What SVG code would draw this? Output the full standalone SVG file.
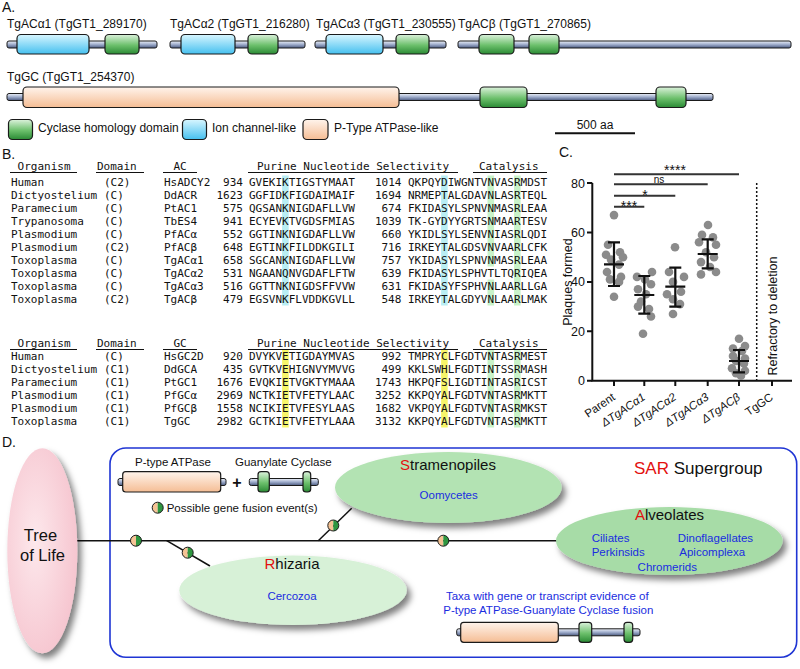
<svg xmlns="http://www.w3.org/2000/svg" width="800" height="669" viewBox="0 0 800 669">
<style>
.s{font-family:"Liberation Sans",Arial,sans-serif;fill:#111}
.m{font-family:"DejaVu Sans Mono",monospace;font-size:11px;fill:#111}
.lbl{font-size:12px}
.pl{font-size:14px}
.bx{stroke:#1a1a1a;stroke-width:1.2}
.bar{fill:url(#gBar);stroke:#1a1a1a;stroke-width:1}
.grn{fill:url(#gGreen)}
.blu{fill:url(#gBlue)}
.org{fill:url(#gOrange)}
.ul{stroke:#111;stroke-width:1}
.hc{fill:#b9eef4}
.hg{fill:#c9f3c9}
.hy{fill:#f7f56a}
.pt{fill:#8b8b8b}
.eb{stroke:#111;stroke-width:2.2;fill:none}
.sig{stroke:#333;stroke-width:2}
.ax{stroke:#111;stroke-width:2;fill:none}
.tx{font-size:12.5px}
.xl{font-size:11.5px}
.it{font-style:italic}
.bt{fill:#1a2de0;font-size:11.5px}
.red{fill:#e3100f}
.tl{stroke:#111;stroke-width:1.5;fill:none}
.big{font-size:15px}
</style>
<defs>
<linearGradient id="gBar" x1="0" y1="0" x2="0" y2="1"><stop offset="0" stop-color="#eef2fa"/><stop offset="0.5" stop-color="#9eaccb"/><stop offset="1" stop-color="#4b5a80"/></linearGradient>
<linearGradient id="gGreen" x1="0" y1="0" x2="0" y2="1"><stop offset="0" stop-color="#dcf2dc"/><stop offset="0.55" stop-color="#6cc06c"/><stop offset="1" stop-color="#2a8a34"/></linearGradient>
<linearGradient id="gBlue" x1="0" y1="0" x2="0" y2="1"><stop offset="0" stop-color="#d8f6ff"/><stop offset="1" stop-color="#45c0ef"/></linearGradient>
<linearGradient id="gOrange" x1="0" y1="0" x2="0" y2="1"><stop offset="0" stop-color="#fff4ec"/><stop offset="1" stop-color="#f5bd94"/></linearGradient>
<radialGradient id="gPink" cx="0.4" cy="0.45" r="0.6"><stop offset="0" stop-color="#fde8ec"/><stop offset="1" stop-color="#f6c6d0"/></radialGradient>
<filter id="ds" x="-20%" y="-30%" width="150%" height="170%"><feDropShadow dx="4" dy="5" stdDeviation="3.2" flood-color="#000" flood-opacity="0.5"/></filter>
<g id="fus">
<path d="M0,-5.5 A5.5,5.5 0 0 0 0,5.5 Z" fill="#f5c394"/>
<path d="M0,-5.5 A5.5,5.5 0 0 1 0,5.5 Z" fill="#2f9640"/>
<circle r="5.5" fill="none" stroke="#1a1a1a" stroke-width="1"/>
</g>
</defs>
<rect width="800" height="669" fill="#fff"/>

<!-- Panel A -->
<g id="panelA">
<text class="s pl" x="2" y="12">A.</text>
<g id="gene-TgACa1">
<text class="s lbl" x="7" y="27.5">TgACα1 (TgGT1_289170)</text>
<rect class="bar" x="7" y="41" width="150" height="7" rx="2"/>
<rect class="bx blu" x="17" y="34.5" width="72" height="19.5" rx="4"/>
<rect class="bx grn" x="105" y="34.5" width="34" height="19.5" rx="4"/>
</g>
<g id="gene-TgACa2">
<text class="s lbl" x="170" y="27.5">TgACα2 (TgGT1_216280)</text>
<rect class="bar" x="170" y="41" width="135" height="7" rx="2"/>
<rect class="bx blu" x="181" y="34.5" width="54" height="19.5" rx="4"/>
<rect class="bx grn" x="248" y="34.5" width="30" height="19.5" rx="4"/>
</g>
<g id="gene-TgACa3">
<text class="s lbl" x="316" y="27.5">TgACα3 (TgGT1_230555)</text>
<rect class="bar" x="315" y="41" width="131" height="7" rx="2"/>
<rect class="bx blu" x="326" y="34.5" width="57" height="19.5" rx="4"/>
<rect class="bx grn" x="396" y="34.5" width="33" height="19.5" rx="4"/>
</g>
<g id="gene-TgACb">
<text class="s lbl" x="458" y="27.5">TgACβ (TgGT1_270865)</text>
<rect class="bar" x="458" y="41" width="333" height="7" rx="2"/>
<rect class="bx grn" x="479" y="34.5" width="35" height="19.5" rx="4"/>
<rect class="bx grn" x="529" y="34.5" width="30" height="19.5" rx="4"/>
</g>
<g id="gene-TgGC">
<text class="s lbl" x="7" y="81">TgGC (TgGT1_254370)</text>
<rect class="bar" x="7" y="93.5" width="706" height="7" rx="2"/>
<rect class="bx org" x="23" y="87" width="376" height="20.5" rx="4"/>
<rect class="bx grn" x="480" y="87" width="47" height="20.5" rx="4"/>
<rect class="bx grn" x="656" y="87" width="30" height="20.5" rx="4"/>
</g>
<g id="legendA">
<rect class="bx grn" x="8.5" y="119.5" width="24" height="20" rx="4"/>
<text class="s lbl" x="38" y="132">Cyclase homology domain</text>
<rect class="bx blu" x="182.5" y="119.5" width="24" height="20" rx="4"/>
<text class="s lbl" x="212" y="132">Ion channel-like</text>
<rect class="bx org" x="303" y="119.5" width="25" height="20" rx="4"/>
<text class="s lbl" x="334" y="132">P-Type ATPase-like</text>
<text class="s lbl" x="595" y="129" text-anchor="middle">500 aa</text>
<line x1="555" y1="133.3" x2="635" y2="133.3" stroke="#111" stroke-width="2"/>
</g>
</g>

<!-- Panel B -->
<g id="panelB">
<text class="s pl" x="2" y="159">B.</text>
<g id="tableAC">
<rect class="hc" x="282.1" y="175.5" width="6.62" height="130"/>
<rect class="hc" x="441.1" y="175.5" width="6.62" height="130"/>
<rect class="hg" x="487.5" y="175.5" width="6.62" height="91"/>
<rect class="hg" x="487.5" y="279.5" width="6.62" height="26"/>
<rect class="hg" x="514" y="175.5" width="6.62" height="130"/>
<text class="m" x="17.6" y="170">Organism</text>
<line class="ul" x1="10" y1="172.5" x2="77" y2="172.5"/>
<text class="m" x="97" y="170">Domain</text>
<line class="ul" x1="96" y1="172.5" x2="144" y2="172.5"/>
<text class="m" x="180" y="170" text-anchor="middle">AC</text>
<line class="ul" x1="163" y1="172.5" x2="197" y2="172.5"/>
<text class="m" x="257" y="170">Purine Nucleotide Selectivity</text>
<line class="ul" x1="248" y1="172.5" x2="458" y2="172.5"/>
<text class="m" x="479" y="170">Catalysis</text>
<line class="ul" x1="473" y1="172.5" x2="547" y2="172.5"/>
<text class="m" y="186"><tspan x="11">Human</tspan><tspan x="104">(C2)</tspan><tspan x="164">HsADCY2</tspan><tspan x="223.1">934</tspan><tspan x="249">GVEKIKTIGSTYMAAT</tspan><tspan x="374.9">1014</tspan><tspan x="408">QKPQYDIWGNTVNVASRMDST</tspan></text>
<text class="m" y="199"><tspan x="11">Dictyostelium</tspan><tspan x="104">(C)</tspan><tspan x="164">DdACR</tspan><tspan x="216.5">1623</tspan><tspan x="249">GGFIDKFIGDAIMAIF</tspan><tspan x="374.9">1694</tspan><tspan x="408">NRMEPTALGDAVNLASRTEQL</tspan></text>
<text class="m" y="212"><tspan x="11">Paramecium</tspan><tspan x="104">(C)</tspan><tspan x="164">PtAC1</tspan><tspan x="223.1">575</tspan><tspan x="249">QGSANKNIGDAFLLVW</tspan><tspan x="381.5">674</tspan><tspan x="408">FKIDASYLSPNVNMASRLEAA</tspan></text>
<text class="m" y="225"><tspan x="11">Trypanosoma</tspan><tspan x="104">(C)</tspan><tspan x="164">TbES4</tspan><tspan x="223.1">941</tspan><tspan x="249">ECYEVKTVGDSFMIAS</tspan><tspan x="374.9">1039</tspan><tspan x="408">TK-GYDYYGRTSNMAARTESV</tspan></text>
<text class="m" y="238"><tspan x="11">Plasmodium</tspan><tspan x="104">(C)</tspan><tspan x="164">PfACα</tspan><tspan x="223.1">552</tspan><tspan x="249">GGTINKNIGDAFLLVW</tspan><tspan x="381.5">660</tspan><tspan x="408">YKIDLSYLSENVNIASRLQDI</tspan></text>
<text class="m" y="251"><tspan x="11">Plasmodium</tspan><tspan x="104">(C2)</tspan><tspan x="164">PfACβ</tspan><tspan x="223.1">648</tspan><tspan x="249">EGTINKFILDDKGILI</tspan><tspan x="381.5">716</tspan><tspan x="408">IRKEYTALGDSVNVAARLCFK</tspan></text>
<text class="m" y="264"><tspan x="11">Toxoplasma</tspan><tspan x="104">(C)</tspan><tspan x="164">TgACα1</tspan><tspan x="223.1">658</tspan><tspan x="249">SGCANKNIGDAFLLVW</tspan><tspan x="381.5">757</tspan><tspan x="408">YKIDASYLSPNVNMASRLEAA</tspan></text>
<text class="m" y="277"><tspan x="11">Toxoplasma</tspan><tspan x="104">(C)</tspan><tspan x="164">TgACα2</tspan><tspan x="223.1">531</tspan><tspan x="249">NGAANQNVGDAFLFTW</tspan><tspan x="381.5">639</tspan><tspan x="408">FKIDASYLSPHVTLTQRIQEA</tspan></text>
<text class="m" y="290"><tspan x="11">Toxoplasma</tspan><tspan x="104">(C)</tspan><tspan x="164">TgACα3</tspan><tspan x="223.1">516</tspan><tspan x="249">GGTTNKNIGDSFFVVW</tspan><tspan x="381.5">631</tspan><tspan x="408">FKIDASYFSPHVNLAARLLGA</tspan></text>
<text class="m" y="303"><tspan x="11">Toxoplasma</tspan><tspan x="104">(C2)</tspan><tspan x="164">TgACβ</tspan><tspan x="223.1">479</tspan><tspan x="249">EGSVNKFLVDDKGVLL</tspan><tspan x="381.5">548</tspan><tspan x="408">IRKEYTALGDYVNLAARLMAK</tspan></text>
</g>
<g id="tableGC">
<rect class="hy" x="282.1" y="349.5" width="6.62" height="78"/>
<rect class="hy" x="441.1" y="349.5" width="6.62" height="78"/>
<rect class="hg" x="487.5" y="349.5" width="6.62" height="78"/>
<rect class="hg" x="514" y="349.5" width="6.62" height="78"/>
<text class="m" x="17.6" y="347">Organism</text>
<line class="ul" x1="10" y1="349.5" x2="77" y2="349.5"/>
<text class="m" x="97" y="347">Domain</text>
<line class="ul" x1="96" y1="349.5" x2="144" y2="349.5"/>
<text class="m" x="180" y="347" text-anchor="middle">GC</text>
<line class="ul" x1="163" y1="349.5" x2="197" y2="349.5"/>
<text class="m" x="257" y="347">Purine Nucleotide Selectivity</text>
<line class="ul" x1="248" y1="349.5" x2="458" y2="349.5"/>
<text class="m" x="479" y="347">Catalysis</text>
<line class="ul" x1="473" y1="349.5" x2="547" y2="349.5"/>
<text class="m" y="360"><tspan x="11">Human</tspan><tspan x="104">(C)</tspan><tspan x="164">HsGC2D</tspan><tspan x="223.1">920</tspan><tspan x="249">DVYKVETIGDAYMVAS</tspan><tspan x="381.5">992</tspan><tspan x="408">TMPRYCLFGDTVNTASRMEST</tspan></text>
<text class="m" y="373"><tspan x="11">Dictyostelium</tspan><tspan x="104">(C1)</tspan><tspan x="164">DdGCA</tspan><tspan x="223.1">435</tspan><tspan x="249">GVTKVEHIGNVYMVVG</tspan><tspan x="381.5">499</tspan><tspan x="408">KKLSWHLFGDTINTSSRMASH</tspan></text>
<text class="m" y="386"><tspan x="11">Paramecium</tspan><tspan x="104">(C1)</tspan><tspan x="164">PtGC1</tspan><tspan x="216.5">1676</tspan><tspan x="249">EVQKIETVGKTYMAAA</tspan><tspan x="374.9">1743</tspan><tspan x="408">HKPQFSLIGDTINTASRICST</tspan></text>
<text class="m" y="399"><tspan x="11">Plasmodium</tspan><tspan x="104">(C1)</tspan><tspan x="164">PfGCα</tspan><tspan x="216.5">2969</tspan><tspan x="249">NCTKIETVFETYLAAC</tspan><tspan x="374.9">3252</tspan><tspan x="408">KKPQYALFGDTVNTASRMKTT</tspan></text>
<text class="m" y="412"><tspan x="11">Plasmodium</tspan><tspan x="104">(C1)</tspan><tspan x="164">PfGCβ</tspan><tspan x="216.5">1558</tspan><tspan x="249">NCIKIETVFESYLAAS</tspan><tspan x="374.9">1682</tspan><tspan x="408">VKPQYALFGDTVNTASRMKST</tspan></text>
<text class="m" y="425"><tspan x="11">Toxoplasma</tspan><tspan x="104">(C1)</tspan><tspan x="164">TgGC</tspan><tspan x="216.5">2982</tspan><tspan x="249">GCTKIETVFETYLAAA</tspan><tspan x="374.9">3132</tspan><tspan x="408">KKPQYALFGDTVNTASRMKTT</tspan></text>
</g>
</g>

<!-- Panel C -->
<g id="panelC">
<text class="s pl" x="559" y="157">C.</text>
<g id="axesC">
<path class="ax" d="M592.3,183 V380.7 H792"/>
<path class="ax" d="M587,183 H592.3 M587,232.4 H592.3 M587,281.9 H592.3 M587,331.3 H592.3 M587,380.7 H592.3"/>
<path class="ax" d="M614,380.7 V386 M644.3,380.7 V386 M675.3,380.7 V386 M707.7,380.7 V386 M739,380.7 V386 M772,380.7 V386"/>
<text class="s tx" x="585" y="187.5" text-anchor="end">80</text>
<text class="s tx" x="585" y="236.9" text-anchor="end">60</text>
<text class="s tx" x="585" y="286.4" text-anchor="end">40</text>
<text class="s tx" x="585" y="335.8" text-anchor="end">20</text>
<text class="s tx" x="585" y="385.2" text-anchor="end">0</text>
<text class="s tx" transform="translate(572,282) rotate(-90)" text-anchor="middle">Plaques formed</text>
<line x1="756.7" y1="183" x2="756.7" y2="380" stroke="#111" stroke-width="1.5" stroke-dasharray="2 2"/>
<text class="s tx" transform="translate(777,316) rotate(-90)" text-anchor="middle">Refractory to deletion</text>
<text class="s xl" transform="translate(616,399) rotate(-34)" text-anchor="end">Parent</text>
<text class="s xl it" transform="translate(646,399) rotate(-34)" text-anchor="end">ΔTgACα1</text>
<text class="s xl it" transform="translate(677,399) rotate(-34)" text-anchor="end">ΔTgACα2</text>
<text class="s xl it" transform="translate(709.5,399) rotate(-34)" text-anchor="end">ΔTgACα3</text>
<text class="s xl it" transform="translate(741,399) rotate(-34)" text-anchor="end">ΔTgACβ</text>
<text class="s xl" transform="translate(774,399) rotate(-34)" text-anchor="end">TgGC</text>
</g>
<g id="sigC">
<path class="sig" d="M614,174.3 H739 M614,184.3 H707.7 M614,195.7 H675.3 M614,206.7 H644.3"/>
<text class="s" x="675" y="175" font-size="14" text-anchor="middle">****</text>
<text class="s" x="659" y="183" font-size="10" text-anchor="middle">ns</text>
<text class="s" x="645" y="200" font-size="14" text-anchor="middle">*</text>
<text class="s" x="629" y="210.5" font-size="14" text-anchor="middle">***</text>
</g>
<g id="pointsC" class="pt">
<circle cx="614" cy="215.1" r="4.3"/><circle cx="608" cy="244.8" r="4.3"/><circle cx="620" cy="252.2" r="4.3"/><circle cx="606" cy="254.7" r="4.3"/><circle cx="623" cy="257.2" r="4.3"/><circle cx="611" cy="259.6" r="4.3"/><circle cx="619" cy="264.6" r="4.3"/><circle cx="607" cy="272" r="4.3"/><circle cx="621" cy="276.9" r="4.3"/><circle cx="610" cy="279.4" r="4.3"/><circle cx="619" cy="281.9" r="4.3"/><circle cx="614" cy="296.7" r="4.3"/>
<circle cx="652" cy="272" r="4.3"/><circle cx="637" cy="276.9" r="4.3"/><circle cx="645" cy="279.4" r="4.3"/><circle cx="651" cy="284.3" r="4.3"/><circle cx="638" cy="289.3" r="4.3"/><circle cx="646" cy="294.2" r="4.3"/><circle cx="641" cy="301.6" r="4.3"/><circle cx="638" cy="306.6" r="4.3"/><circle cx="649" cy="309" r="4.3"/><circle cx="651" cy="316.5" r="4.3"/><circle cx="643" cy="333.8" r="4.3"/>
<circle cx="675" cy="247.3" r="4.3"/><circle cx="669" cy="272" r="4.3"/><circle cx="684" cy="276.9" r="4.3"/><circle cx="673" cy="281.9" r="4.3"/><circle cx="681" cy="291.7" r="4.3"/><circle cx="667" cy="294.2" r="4.3"/><circle cx="673" cy="299.2" r="4.3"/><circle cx="680" cy="304.1" r="4.3"/><circle cx="673" cy="314" r="4.3"/>
<circle cx="708" cy="225" r="4.3"/><circle cx="702" cy="234.9" r="4.3"/><circle cx="713" cy="237.4" r="4.3"/><circle cx="699" cy="242.3" r="4.3"/><circle cx="716" cy="244.8" r="4.3"/><circle cx="706" cy="252.2" r="4.3"/><circle cx="714" cy="257.2" r="4.3"/><circle cx="701" cy="262.1" r="4.3"/><circle cx="710" cy="267" r="4.3"/><circle cx="716" cy="272" r="4.3"/><circle cx="701" cy="274.4" r="4.3"/>
<circle cx="739" cy="338.7" r="4.3"/><circle cx="745" cy="346.1" r="4.3"/><circle cx="733" cy="348.6" r="4.3"/><circle cx="742" cy="351" r="4.3"/><circle cx="733" cy="356" r="4.3"/><circle cx="745" cy="358.5" r="4.3"/><circle cx="736" cy="360.9" r="4.3"/><circle cx="744" cy="363.4" r="4.3"/><circle cx="732" cy="368.3" r="4.3"/><circle cx="745" cy="370.8" r="4.3"/><circle cx="736" cy="373.3" r="4.3"/><circle cx="741" cy="375.8" r="4.3"/>
</g>
<g id="errC" class="eb">
<path d="M614,242.3 V286 M608,242.3 H620 M608,286 H620 M604,264.3 H624"/>
<path d="M644.3,276 V313.7 M638.3,276 H650.3 M638.3,313.7 H650.3 M634.3,295 H654.3"/>
<path d="M675.3,267.7 V306.7 M669.3,267.7 H681.3 M669.3,306.7 H681.3 M665.3,286.7 H685.3"/>
<path d="M707.7,239.3 V268.3 M701.7,239.3 H713.7 M701.7,268.3 H713.7 M697.7,254 H717.7"/>
<path d="M739,350 V372.3 M733,350 H745 M733,372.3 H745 M729,361 H749"/>
</g>
</g>

<!-- Panel D -->
<g id="panelD">
<text class="s pl" x="2" y="447">D.</text>
<g id="sar-box">
<rect x="110" y="448" width="686.7" height="209.3" rx="16" fill="none" stroke="#1f35d4" stroke-width="1.6"/>
<text class="s" x="634" y="474" font-size="17"><tspan class="red">SAR</tspan> Supergroup</text>
</g>
<g id="connectors">
<path class="tl" d="M77,540.7 H557"/>
<path class="tl" d="M166.7,540.7 L210,566"/>
<path class="tl" d="M318.3,540.7 L351.7,508.3"/>
</g>
<g id="node-tree">
<ellipse cx="42.3" cy="550.8" rx="35" ry="102.5" fill="url(#gPink)" filter="url(#ds)"/>
<text class="s" x="40.5" y="540.5" font-size="16.5" text-anchor="middle">Tree</text>
<text class="s" x="42.5" y="560.5" font-size="16.5" text-anchor="middle">of Life</text>
</g>
<g id="node-stramenopiles">
<ellipse cx="448.3" cy="487.5" rx="113.3" ry="35.5" fill="#b3e3b3" filter="url(#ds)"/>
<text class="s big" x="448" y="470" text-anchor="middle"><tspan class="red">S</tspan>tramenopiles</text>
<text class="s bt" x="448.7" y="498.5" text-anchor="middle">Oomycetes</text>
</g>
<g id="node-rhizaria">
<ellipse cx="293" cy="590.3" rx="113.7" ry="34.7" fill="#d7f1d7" filter="url(#ds)"/>
<text class="s big" x="292" y="569.3" text-anchor="middle"><tspan class="red">R</tspan>hizaria</text>
<text class="s bt" x="292" y="599.5" text-anchor="middle">Cercozoa</text>
</g>
<g id="node-alveolates">
<ellipse cx="669.3" cy="541" rx="113.3" ry="34" fill="#a7dca7" filter="url(#ds)"/>
<text class="s big" x="669.5" y="519.5" text-anchor="middle"><tspan class="red">A</tspan>lveolates</text>
<text class="s bt" x="591.7" y="541.7">Ciliates</text>
<text class="s bt" x="677.7" y="541.7">Dinoflagellates</text>
<text class="s bt" x="591.7" y="556.2">Perkinsids</text>
<text class="s bt" x="679.3" y="556.2">Apicomplexa</text>
<text class="s bt" x="667.3" y="570.5" text-anchor="middle">Chromerids</text>
</g>
<g id="fusion-events">
<use href="#fus" x="136" y="540.7"/>
<use href="#fus" x="187.7" y="552.7"/>
<use href="#fus" x="333.3" y="525.5"/>
<use href="#fus" x="443.3" y="540.7"/>
</g>
<g id="legendD">
<text class="s" x="173" y="466" font-size="11.5" text-anchor="middle">P-type ATPase</text>
<text class="s" x="283.3" y="466" font-size="11.5" text-anchor="middle">Guanylate Cyclase</text>
<rect class="bar" x="118" y="478.5" width="108" height="7" rx="2"/>
<rect class="bx org" x="122.7" y="471.7" width="98" height="20.3" rx="3"/>
<text class="s" x="237" y="488" font-size="16" font-weight="bold" text-anchor="middle">+</text>
<rect class="bar" x="249.3" y="478.5" width="69" height="7" rx="2"/>
<rect class="bx grn" x="258" y="471.7" width="11.3" height="20.3" rx="3"/>
<rect class="bx grn" x="303" y="471.7" width="7.7" height="20.3" rx="3"/>
<use href="#fus" x="157.7" y="507.7"/>
<text class="s" x="166.7" y="511.7" font-size="11.5">Possible gene fusion event(s)</text>
</g>
<g id="fusion-taxa">
<text class="s bt" x="547.3" y="600" text-anchor="middle">Taxa with gene or transcript evidence of</text>
<text class="s bt" x="548.3" y="614" text-anchor="middle">P-type ATPase-Guanylate Cyclase fusion</text>
<rect class="bar" x="456.7" y="628.8" width="183.3" height="7" rx="2"/>
<rect class="bx org" x="460.7" y="622.3" width="97.6" height="20" rx="3"/>
<rect class="bx grn" x="579" y="622.3" width="12.7" height="20" rx="3"/>
<rect class="bx grn" x="624" y="622.3" width="8.7" height="20" rx="3"/>
</g>
</g>
</svg>
